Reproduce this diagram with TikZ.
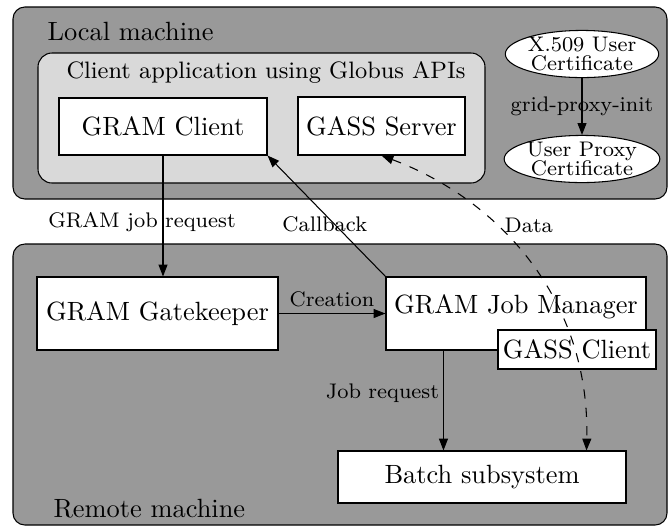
\documentclass[tikz,border=0pt]{standalone}
\usepackage{xcolor}
\usepackage{tikz}
\usetikzlibrary{arrows.meta,shapes.geometric,calc}

\definecolor{machinegray}{gray}{0.6}
\definecolor{appgray}{gray}{0.85}
\newcommand{\pxl}{0.379pt}

\begin{document}
\begin{tikzpicture}[x=\pxl, y=-\pxl,
    machine/.style={draw, fill=machinegray, rounded corners=4.5pt},
    appbox/.style={draw, fill=appgray, rounded corners=5.3pt},
    comp/.style={draw, fill=white, rectangle, inner sep=1pt},
    cert/.style={draw, fill=white, ellipse, inner sep=0pt, minimum width=150*\pxl, minimum height=46*\pxl, align=center, font=\footnotesize},
    lbl/.style={font=\footnotesize},
    arr/.style={-{Triangle[length=4.5pt,width=3.4pt]}},
    dataarr/.style={{Triangle[length=4.5pt,width=3.4pt]}-{Triangle[length=4.5pt,width=3.4pt]}, dash pattern=on 3.5pt off 3.5pt}]
        \useasboundingbox (0,0) rectangle (670,527);

        % Machines
        \node[machine, minimum width=654*\pxl, minimum height=192*\pxl] (localbox) at (340,103) {};
        \node[machine, minimum width=654*\pxl, minimum height=281*\pxl] (remotebox) at (340,384.5) {};
        \node[appbox, minimum width=447*\pxl, minimum height=130*\pxl] (clientapp) at (261.5,118) {};
        \node[anchor=base west, inner sep=0pt] (localname) at (47,40) {Local machine};
        \node[anchor=base west, inner sep=0pt] (remotename) at (53,517) {Remote machine};
        \node[anchor=base, inner sep=0pt, font=\small] (appname) at (266,78) {Client application using Globus APIs};

        % Components
        \node[comp, minimum width=208*\pxl, minimum height=57*\pxl] (gramclient) at (163,126.5) {GRAM Client};
        \node[comp, minimum width=167*\pxl, minimum height=58*\pxl] (gassserver) at (381.5,126) {GASS Server};
        \node[cert] (x509) at (582,54) {X.509 User\\[-2.5pt]Certificate};
        \node[cert] (proxy) at (582,159) {User Proxy\\[-2.5pt]Certificate};
        \node[comp, minimum width=241*\pxl, minimum height=73*\pxl] (gatekeeper) at (157.5,313.5) {GRAM Gatekeeper};
        \node[comp, minimum width=260*\pxl, minimum height=73*\pxl, text height=7pt, text depth=7pt] (jobmanager) at (516,313.5) {GRAM Job Manager};
        \node[comp, minimum width=158*\pxl, minimum height=39*\pxl] (gassclient) at (577,349.5) {GASS Client};
        \node[comp, minimum width=288*\pxl, minimum height=52*\pxl] (batch) at (482,477) {Batch subsystem};

        % Connectors
        \draw[arr] (x509) -- (proxy) node[lbl, midway] {grid-proxy-init};
        \draw[arr] (gramclient.south) -- (gramclient.south |- gatekeeper.north) node[lbl, pos=0.55, xshift=-21*\pxl] {GRAM job request};
        \draw[arr] (jobmanager.north west) -- (gramclient.south east) node[lbl, pos=0.43, xshift=-10*\pxl] {Callback};
        \draw[arr] (gatekeeper) -- (jobmanager) node[lbl, midway, above=-1pt] {Creation};
        \coordinate (jrtop) at ($(jobmanager.south west)+(58,0)$);
        \draw[arr] (jrtop) -- (jrtop |- batch.north) node[lbl, pos=0.43, anchor=east, inner sep=1.5pt] {Job request};
        \coordinate (dataend) at ($(batch.north east)+(-40,0)$);
        \draw[dataarr] (gassserver.south) .. controls (500,200) and (590,300) .. (dataend) node[lbl, pos=0.36, anchor=west] {Data};
    \end{tikzpicture}
\end{document}
